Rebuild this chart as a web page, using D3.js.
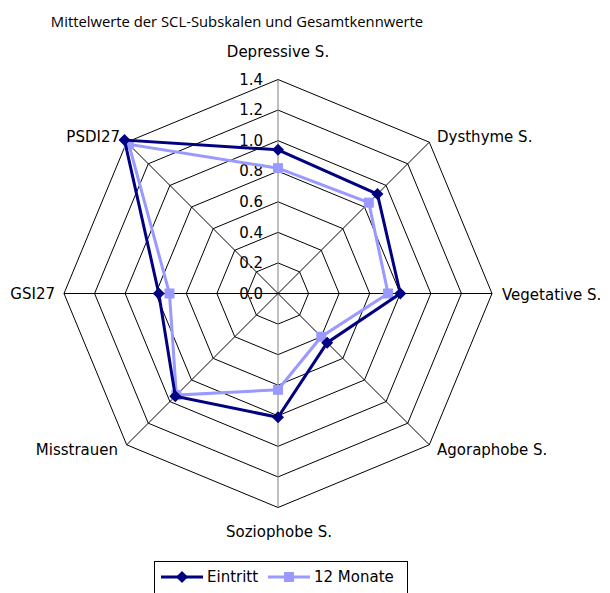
<!DOCTYPE html>
<html>
<head>
<meta charset="utf-8">
<script src="https://cdn.jsdelivr.net/npm/d3@7"></script>
<style>
  body { margin: 0; background: #fff; }
  text { font-family: "DejaVu Sans", sans-serif; fill: #000; font-size: 15px; }
</style>
</head>
<body>
<script>
var axes = ['Depressive S.', 'Dysthyme S.', 'Vegetative S.', 'Agoraphobe S.', 'Soziophobe S.', 'Misstrauen', 'GSI27', 'PSDI27']
var eintritt = [0.94, 0.92, 0.80, 0.455, 0.81, 0.95, 0.78, 1.42]
var monate12 = [0.82, 0.84, 0.72, 0.40, 0.63, 0.94, 0.71, 1.38]
var levels = [0.2, 0.4, 0.6, 0.8, 1.0, 1.2, 1.4]
var tickVals = [0, 0.2, 0.4, 0.6, 0.8, 1.0, 1.2, 1.4]
var series = [
  {name: 'Eintritt', values: eintritt, color: '#000080', marker: 'diamond'},
  {name: '12 Monate', values: monate12, color: '#9999ff', marker: 'square'}
]

var W = 610, H = 593
var cx = 278, cy = 293.5
var r = d3.scaleLinear().domain([0, 1.4]).range([0, 214])
var ang = d3.scalePoint().domain(axes).range([0, 2 * Math.PI * 7 / 8])

var svg = d3.select('body').append('svg')
  .attr('width', W).attr('height', H)

function pt(a, v){
  var t = ang(a)
  return [cx + r(v) * Math.sin(t), cy - r(v) * Math.cos(t)]
}

svg.append('text')
  .attr('x', 237).attr('y', 27)
  .attr('text-anchor', 'middle')
  .style('font-family', '"Open Sans", sans-serif')
  .style('font-size', '14.8px')
  .text('Mittelwerte der SCL-Subskalen und Gesamtkennwerte')

var g = svg.append('g')

// octagon grid
levels.forEach(function(l){
  g.append('polygon')
    .attr('points', axes.map(function(a){ return pt(a, l).join(',') }).join(' '))
    .attr('fill', 'none').attr('stroke', '#000').attr('stroke-width', 1)
})

// spokes
axes.forEach(function(a, i){
  var p = pt(a, 1.4)
  g.append('line')
    .attr('x1', cx).attr('y1', cy).attr('x2', p[0]).attr('y2', p[1])
    .attr('stroke', (i % 4 == 0) ? '#808080' : '#000').attr('stroke-width', 1)
})

// value ticks on vertical axis
tickVals.forEach(function(v){
  g.append('text')
    .attr('x', cx - 15).attr('y', cy - r(v))
    .attr('dy', '0.35em')
    .attr('text-anchor', 'end')
    .text(d3.format('.1f')(v))
})

// category labels
var labelPos = [
  {x: 278, y: 57, anchor: 'middle'},
  {x: 437, y: 142, anchor: 'start'},
  {x: 502, y: 300, anchor: 'start'},
  {x: 437, y: 455, anchor: 'start'},
  {x: 279, y: 537, anchor: 'middle'},
  {x: 118, y: 455, anchor: 'end'},
  {x: 55, y: 299, anchor: 'end'},
  {x: 120, y: 142, anchor: 'end'}
]
axes.forEach(function(a, i){
  svg.append('text')
    .attr('x', labelPos[i].x).attr('y', labelPos[i].y)
    .attr('text-anchor', labelPos[i].anchor)
    .text(a)
})

var line = d3.lineRadial()
  .angle(function(d, i){ return ang(axes[i]) })
  .radius(function(d){ return r(d) })
  .curve(d3.curveLinearClosed)

function marker(sel, type, color){
  if (type == 'diamond') {
    sel.append('path').attr('d', 'M0,-6L6,0L0,6L-6,0Z').attr('fill', color)
  } else {
    sel.append('rect').attr('x', -5).attr('y', -5).attr('width', 10).attr('height', 10).attr('fill', color)
  }
}

series.slice().reverse().forEach(function(s){
  var sg = g.append('g')
  sg.append('path')
    .attr('transform', 'translate(' + cx + ',' + cy + ')')
    .attr('d', line(s.values))
    .attr('fill', 'none').attr('stroke', s.color).attr('stroke-width', 3)
  s.values.forEach(function(v, i){
    var p = pt(axes[i], v)
    var m = sg.append('g').attr('transform', 'translate(' + p[0] + ',' + p[1] + ')')
    marker(m, s.marker, s.color)
  })
})

// legend
var lg = svg.append('g')
lg.append('rect')
  .attr('x', 154.5).attr('y', 561.5).attr('width', 253).attr('height', 40)
  .attr('fill', '#fff').attr('stroke', '#000').attr('stroke-width', 1)
var lx = [161, 268]
series.forEach(function(s, i){
  lg.append('line')
    .attr('x1', lx[i]).attr('x2', lx[i] + 42).attr('y1', 577).attr('y2', 577)
    .attr('stroke', s.color).attr('stroke-width', 3)
  var m = lg.append('g').attr('transform', 'translate(' + (lx[i] + 21) + ',577)')
  marker(m, s.marker, s.color)
  lg.append('text')
    .attr('x', lx[i] + 46).attr('y', 582)
    .text(s.name)
})
</script>
</body>
</html>
